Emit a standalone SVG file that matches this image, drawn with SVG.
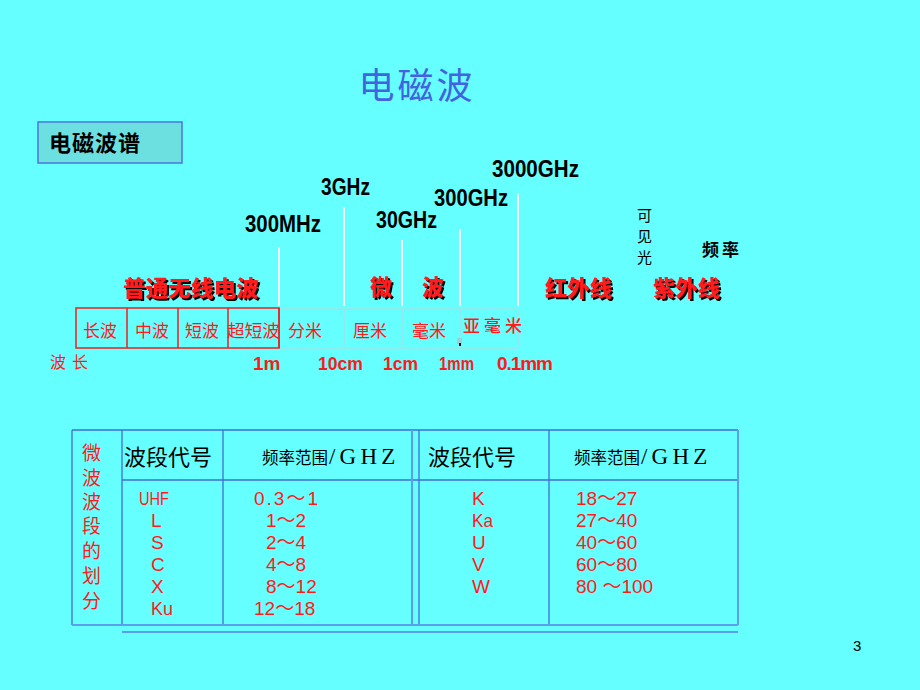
<svg xmlns="http://www.w3.org/2000/svg" width="920" height="690" viewBox="0 0 920 690">
<defs>
<filter id="sh" x="-10%" y="-20%" width="130%" height="150%">
<feOffset in="SourceAlpha" dx="2" dy="2" result="o"/>
<feMerge><feMergeNode in="o"/><feMergeNode in="SourceGraphic"/></feMerge>
</filter>
</defs>
<style>
.cjk{font-family:"Noto Sans CJK SC","Noto Sans",sans-serif}
.freq{font-family:"Liberation Sans",Arial,sans-serif;font-weight:bold;font-size:23px;fill:#000}
.shadow{font-family:"Noto Sans CJK SC",sans-serif;font-weight:900;font-size:22px;fill:#ff1a1a;filter:url(#sh)}
.band{font-family:"Noto Sans CJK SC",sans-serif;font-size:17px;fill:#ff1a1a}
.wl{font-family:"Liberation Sans",Arial,sans-serif;font-weight:bold;font-size:19px;fill:#ff1a1a}
.wline{stroke:#f2ffff;stroke-width:2}
.gline{stroke:#b4d8dc;stroke-width:1;fill:none}
.rline{stroke:#ee2020;stroke-width:1.5;fill:none}
.tline{stroke:#3f6fd6;stroke-width:1.3;fill:none}
.tline2{stroke:#5a9ef0;stroke-width:2;fill:none}
.hdr{font-family:"Noto Sans CJK SC",sans-serif;fill:#000}
.ghz{font-family:"Liberation Serif","Times New Roman",serif;font-size:23px;letter-spacing:4.2px}
.dat{font-family:"Liberation Sans","Noto Sans CJK SC",sans-serif;font-size:19px;fill:#ff1a1a}
.vert{font-family:"Liberation Sans","Noto Sans CJK SC",sans-serif;font-size:19px;fill:#ff1a1a}
</style>
<rect width="920" height="690" fill="#66ffff"/>

<g id="title">
<text x="417" y="99" text-anchor="middle" class="cjk" font-size="36" fill="#4263e0" letter-spacing="3">电磁波</text>
</g>

<g id="spectrum-box">
<rect x="38" y="122" width="144" height="41" fill="#6ce0e0" stroke="#4a78d8" stroke-width="1.5"/>
<text x="49" y="151" class="cjk" font-size="22" font-weight="bold" fill="#000" letter-spacing="1">电磁波谱</text>
</g>

<g id="frequencies">
<text x="245" y="232" class="freq" textLength="76" lengthAdjust="spacingAndGlyphs">300MHz</text>
<text x="321" y="195" class="freq" textLength="49" lengthAdjust="spacingAndGlyphs">3GHz</text>
<text x="376" y="228" class="freq" textLength="61" lengthAdjust="spacingAndGlyphs">30GHz</text>
<text x="434" y="206" class="freq" textLength="74" lengthAdjust="spacingAndGlyphs">300GHz</text>
<text x="492" y="177" class="freq" textLength="87" lengthAdjust="spacingAndGlyphs">3000GHz</text>
</g>

<g id="dividers">
<line class="wline" x1="279" y1="247" x2="279" y2="306"/>
<line class="wline" x1="344" y1="207" x2="344" y2="306"/>
<line class="wline" x1="402" y1="240" x2="402" y2="306"/>
<line class="wline" x1="460" y1="229" x2="460" y2="306"/>
<line class="wline" x1="518" y1="193" x2="518" y2="306"/>
</g>

<g id="regions">
<text x="123" y="296" class="shadow" textLength="136" lengthAdjust="spacingAndGlyphs">普通无线电波</text>
<text x="370" y="295" class="shadow">微</text>
<text x="422" y="295" class="shadow">波</text>
<text x="545" y="296" class="shadow" textLength="67" lengthAdjust="spacingAndGlyphs">红外线</text>
<text x="653" y="296" class="shadow" textLength="67" lengthAdjust="spacingAndGlyphs">紫外线</text>
<text font-family="Liberation Sans,'Noto Sans CJK SC',sans-serif" font-size="15" fill="#000"><tspan x="637" y="221">可</tspan><tspan x="637" y="242">见</tspan><tspan x="637" y="263">光</tspan></text>
<text x="702" y="256" class="cjk" font-size="17" font-weight="bold" letter-spacing="3" fill="#000">频率</text>
</g>

<g id="bands">
<path class="gline" d="M279 309 H518 V348 H279 M344 309 V348 M402 309 V348 M460 309 V348"/>
<rect class="rline" x="76" y="308" width="203" height="40" stroke="#d85050"/>
<path class="rline" d="M127 308 V348 M178 308 V348 M228 308 V348 M279 308 V348"/>
<text x="83" y="337" class="band">长波</text>
<text x="135" y="337" class="band">中波</text>
<text x="185" y="337" class="band">短波</text>
<text x="227" y="337" class="band" textLength="53" lengthAdjust="spacingAndGlyphs">超短波</text>
<text x="288" y="337" class="band" font-size="18">分米</text>
<text x="353" y="337" class="band" font-size="18">厘米</text>
<text x="412" y="337" class="band" font-size="18">毫米</text>
<text x="463" y="332" class="band" font-size="16" font-weight="500" textLength="59" lengthAdjust="spacing">亚毫米</text>
<rect x="457" y="338" width="5" height="6" fill="#9ccfd8"/>
<rect x="459" y="343" width="2" height="3" fill="#000"/>
</g>

<g id="wavelengths">
<text x="50" y="368" class="cjk" font-size="16" fill="#ff1a1a" letter-spacing="6">波长</text>
<text x="253" y="370" class="wl" font-size="21">1m</text>
<text x="318" y="370" class="wl" textLength="45" lengthAdjust="spacingAndGlyphs">10cm</text>
<text x="383" y="370" class="wl" textLength="35" lengthAdjust="spacingAndGlyphs">1cm</text>
<text x="439" y="370" class="wl" textLength="35" lengthAdjust="spacingAndGlyphs">1mm</text>
<text x="497" y="370" class="wl" textLength="56" lengthAdjust="spacing">0.1mm</text>
</g>

<g id="table">
<path class="tline" d="M72 430 H738 M72 430 V625 M122 430 V625 M223 430 V625 M419 430 V625 M549 430 V625 M122 480 H738"/>
<path class="tline2" d="M412 430 V625 M738 430 V625 M122 632 H738 M72 625 H738"/>
<text class="vert"><tspan x="82" y="460">微</tspan><tspan x="82" y="485">波</tspan><tspan x="82" y="509">波</tspan><tspan x="82" y="533">段</tspan><tspan x="82" y="558">的</tspan><tspan x="82" y="583">划</tspan><tspan x="82" y="608">分</tspan></text>
<text x="124" y="465" class="hdr" font-size="22">波段代号</text>
<text x="262" y="464" class="hdr" font-size="16.5">频率范围<tspan class="ghz" dx="1">/GHZ</tspan></text>
<text x="428" y="465" class="hdr" font-size="22">波段代号</text>
<text x="574" y="464" class="hdr" font-size="16.5">频率范围<tspan class="ghz" dx="1">/GHZ</tspan></text>

<text class="dat"><tspan x="139" y="505" textLength="30" lengthAdjust="spacingAndGlyphs">UHF</tspan><tspan x="151" y="527">L</tspan><tspan x="151" y="549">S</tspan><tspan x="151" y="571">C</tspan><tspan x="151" y="593">X</tspan><tspan x="151" y="615" textLength="22" lengthAdjust="spacingAndGlyphs">Ku</tspan></text>

<text class="dat"><tspan x="254" y="505" textLength="64" lengthAdjust="spacing">0.3～1</tspan><tspan x="266" y="527">1～2</tspan><tspan x="266" y="549">2～4</tspan><tspan x="266" y="571">4～8</tspan><tspan x="266" y="593">8～12</tspan><tspan x="254" y="615">12～18</tspan></text>

<text class="dat"><tspan x="472" y="505">K</tspan><tspan x="472" y="527" textLength="21" lengthAdjust="spacingAndGlyphs">Ka</tspan><tspan x="472" y="549">U</tspan><tspan x="472" y="571">V</tspan><tspan x="472" y="593">W</tspan></text>

<text class="dat" xml:space="preserve"><tspan x="576" y="505">18～27</tspan><tspan x="576" y="527">27～40</tspan><tspan x="576" y="549">40～60</tspan><tspan x="576" y="571">60～80</tspan><tspan x="576" y="593">80 ～100</tspan></text>
</g>

<g id="page">
<text x="853" y="651" font-family="Liberation Sans,Arial,sans-serif" font-size="15" fill="#000">3</text>
</g>
</svg>
